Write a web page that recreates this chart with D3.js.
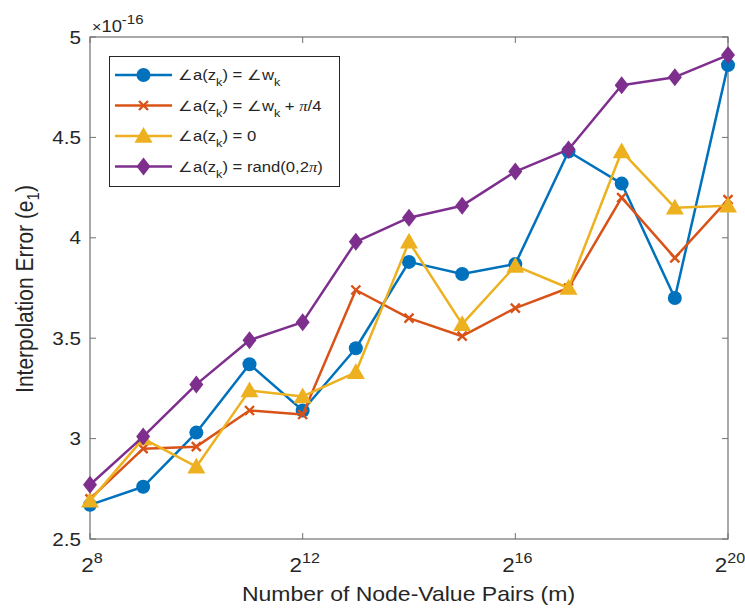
<!DOCTYPE html>
<html>
<head>
<meta charset="utf-8">
<script src="https://cdn.jsdelivr.net/npm/d3@7"></script>
<style>
  html, body { margin: 0; padding: 0; background: #fff; }
  svg { display: block; font-family: "Liberation Sans", Arial, Helvetica, sans-serif; }
</style>
</head>
<body>
<svg id="chart" width="745" height="609"></svg>
<script>
// log2 of the number of node-value pairs
const exponents = [8, 9, 10, 11, 12, 13, 14, 15, 16, 17, 18, 19, 20];
// interpolation error, in units of 1e-16
const errPhaseW      = [2.67, 2.76, 3.03, 3.37, 3.14, 3.45, 3.88, 3.82, 3.87, 4.43, 4.27, 3.70, 4.86];
const errPhaseWQuart = [2.70, 2.95, 2.96, 3.14, 3.12, 3.74, 3.60, 3.51, 3.65, 3.75, 4.20, 3.90, 4.19];
const errPhaseZero   = [2.69, 3.00, 2.86, 3.24, 3.21, 3.33, 3.98, 3.57, 3.86, 3.75, 4.43, 4.15, 4.16];
const errPhaseRand   = [2.77, 3.01, 3.27, 3.49, 3.58, 3.98, 4.10, 4.16, 4.33, 4.44, 4.76, 4.80, 4.91];
const xTickExps = [8, 12, 16, 20];
const yTicks = [2.5, 3, 3.5, 4, 4.5, 5];

const series = [
  { values: errPhaseW,      color: "#0072BD", marker: "circle" },
  { values: errPhaseWQuart, color: "#D95319", marker: "cross" },
  { values: errPhaseZero,   color: "#EDB120", marker: "triangle" },
  { values: errPhaseRand,   color: "#7E2F8E", marker: "diamond" }
];

const svg = d3.select("#chart");
const L = 90, R = 728, T = 37, B = 539;
// horizontal widening applied to all lettering
const SX = 1.15;

const x = d3.scaleLog().base(2).domain([2 ** 8, 2 ** 20]).range([L, R]);
const y = d3.scaleLinear().domain([2.5, 5]).range([B, T]);

const axisColor = "#262626";
const boxColor = "#707070";
const tickLen = 6;

// text anchored at (px, py), widened horizontally by SX
function stext(parent, px, py, size, anchor, extra) {
  return parent.append("g")
    .attr("transform", `translate(${px},${py}) scale(${SX},1)` + (extra || ""))
    .append("text").attr("x", 0).attr("y", 0)
    .attr("text-anchor", anchor).attr("font-size", size).attr("fill", axisColor);
}

// plot box
svg.append("rect").attr("x", L).attr("y", T).attr("width", R - L).attr("height", B - T)
  .attr("fill", "none").attr("stroke", boxColor).attr("stroke-width", 1.2);

// inward ticks on all four sides
const gT = svg.append("g").attr("stroke", boxColor).attr("stroke-width", 1);
xTickExps.forEach(e => {
  const px = x(2 ** e);
  gT.append("line").attr("x1", px).attr("x2", px).attr("y1", B).attr("y2", B - tickLen);
  gT.append("line").attr("x1", px).attr("x2", px).attr("y1", T).attr("y2", T + tickLen);
});
yTicks.forEach(v => {
  const py = y(v);
  gT.append("line").attr("x1", L).attr("x2", L + tickLen).attr("y1", py).attr("y2", py);
  gT.append("line").attr("x1", R).attr("x2", R - tickLen).attr("y1", py).attr("y2", py);
});

// y tick labels
yTicks.forEach(v => {
  stext(svg, L - 9, y(v) + 6.5, 18, "end").text(d3.format("")(v));
});

// x tick labels as powers of two
xTickExps.forEach(e => {
  const t = stext(svg, x(2 ** e) + 2, B + 33, 19.5, "middle");
  t.append("tspan").text("2");
  t.append("tspan").attr("dy", -9).attr("font-size", 14).text(e);
});

// exponent multiplier
const ex = stext(svg, L + 2, T - 5.5, 16, "start");
ex.append("tspan").attr("font-size", 14).text("\u00D7");
ex.append("tspan").text("10");
ex.append("tspan").attr("dy", -7.5).attr("font-size", 13).text("-16");

// axis titles
stext(svg, 408.5, 601, 20, "middle").text("Number of Node-Value Pairs (m)");
const yl = stext(svg, 33, 289, 21, "middle", " rotate(-90)");
yl.append("tspan").text("Interpolation Error (e");
yl.append("tspan").attr("dy", 5).attr("font-size", 15).text("1");
yl.append("tspan").attr("dy", -5).text(")");

function drawMarker(g, kind, cx, cy, color) {
  if (kind === "circle") {
    g.append("circle").attr("cx", cx).attr("cy", cy).attr("r", 7).attr("fill", color);
  } else if (kind === "cross") {
    const s = 4.5;
    g.append("path").attr("d", `M${cx - s},${cy - s}L${cx + s},${cy + s}M${cx - s},${cy + s}L${cx + s},${cy - s}`)
      .attr("stroke", color).attr("stroke-width", 2.4).attr("fill", "none");
  } else if (kind === "triangle") {
    const h = 9;
    g.append("path").attr("d", `M${cx},${cy - h}L${cx + h},${cy + h * 0.75}L${cx - h},${cy + h * 0.75}Z`)
      .attr("fill", color);
  } else if (kind === "diamond") {
    const hx = 7, hy = 9;
    g.append("path").attr("d", `M${cx},${cy - hy}L${cx + hx},${cy}L${cx},${cy + hy}L${cx - hx},${cy}Z`)
      .attr("fill", color);
  }
}

const line = d3.line().x((d, i) => x(2 ** exponents[i])).y(d => y(d));
series.forEach(s => {
  const g = svg.append("g");
  g.append("path").attr("d", line(s.values)).attr("fill", "none")
    .attr("stroke", s.color).attr("stroke-width", 2.5).attr("stroke-linejoin", "round");
  s.values.forEach((v, i) => drawMarker(g, s.marker, x(2 ** exponents[i]), y(v), s.color));
});

// legend
const lg = svg.append("g");
lg.append("rect").attr("x", 109.5).attr("y", 56.5).attr("width", 230).attr("height", 130)
  .attr("fill", "#fff").attr("stroke", "#262626").attr("stroke-width", 1);
// each piece: [text, role] where role 1 = subscript, -1 = back to baseline, 2 = italic symbol
const legendLabels = [
  [["\u2220a(z", 0], ["k", 1], [") = \u2220w", -1], ["k", 1]],
  [["\u2220a(z", 0], ["k", 1], [") = \u2220w", -1], ["k", 1], [" + ", -1], ["\u03C0", 2], ["/4", 0]],
  [["\u2220a(z", 0], ["k", 1], [") = 0", -1]],
  [["\u2220a(z", 0], ["k", 1], [") = rand(0,2", -1], ["\u03C0", 2], [")", 0]]
];
series.forEach((s, i) => {
  const cy = 75 + i * 30.5;
  lg.append("line").attr("x1", 115).attr("x2", 172).attr("y1", cy).attr("y2", cy)
    .attr("stroke", s.color).attr("stroke-width", 2.5);
  drawMarker(lg, s.marker, 143.5, cy, s.color);
  const t = stext(lg, 178, cy + 5, 14.5, "start");
  legendLabels[i].forEach(([txt, role]) => {
    const sp = t.append("tspan").text(txt);
    if (role === 1) sp.attr("dy", 6).attr("font-size", 11);
    if (role === -1) sp.attr("dy", -6);
    if (role === 2) sp.attr("font-style", "italic").attr("font-family", "'Liberation Serif', serif");
  });
});
</script>
</body>
</html>
